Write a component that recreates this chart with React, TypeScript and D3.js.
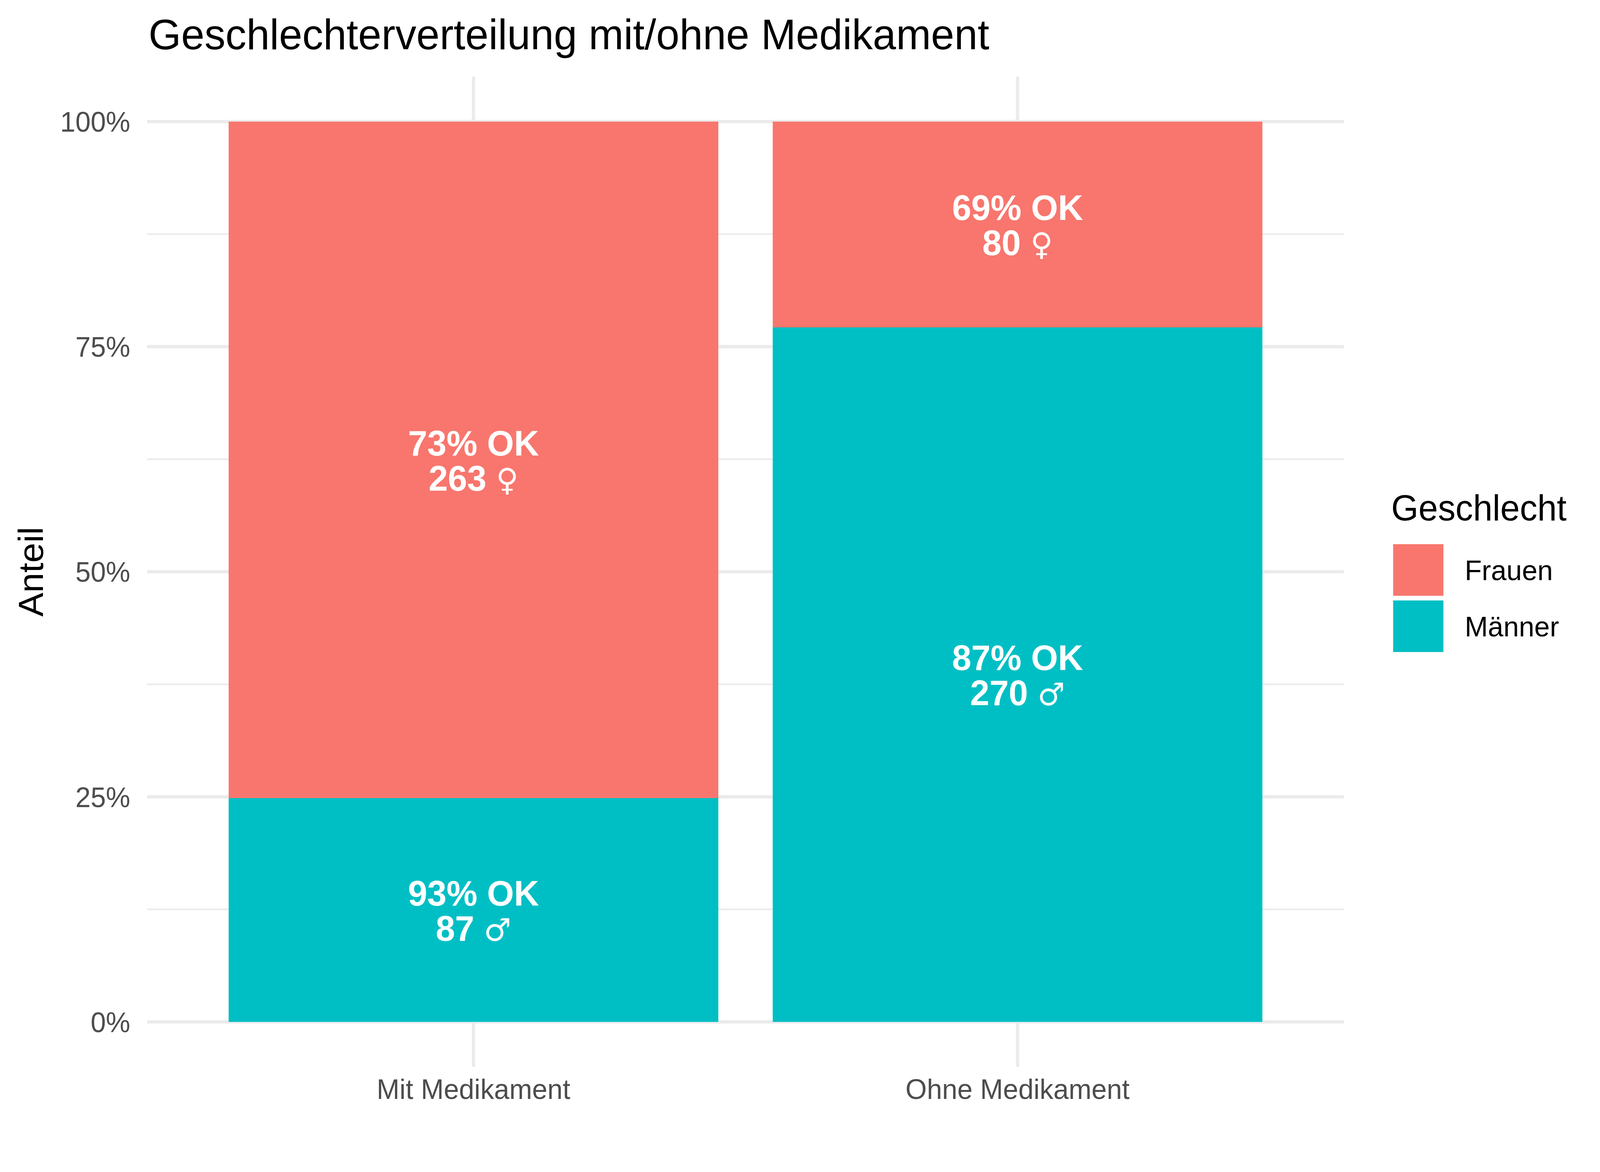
import React from 'react';
import * as d3 from 'd3';

// Data
const groups = ['Mit Medikament', 'Ohne Medikament'];
const sexes = ['Frauen', 'Männer'];
const symbols = ['♀', '♂'];
const frauenCounts = [263, 80];
const maennerCounts = [87, 270];
const frauenOk = [73, 69];
const maennerOk = [93, 87];
const yTicks = [0, 0.25, 0.5, 0.75, 1];
const yMinorTicks = [0.125, 0.375, 0.625, 0.875];
const colors = ['#F8766D', '#00BFC4'];

const W = 4200;
const H = 3000;
const panel = { left: 386, right: 3528, top: 196, bottom: 2731 };
const font = '"Liberation Sans", Arial, Helvetica, sans-serif';

const App: React.FC = () => {
  const x = d3
    .scalePoint<string>()
    .domain(groups)
    .range([panel.left, panel.right])
    .padding(0.6);
  const barW = x.step() * 0.9;

  // ggplot-style 5% expansion of the y range
  const pad = ((panel.bottom - panel.top) / 1.1) * 0.05;
  const y = d3
    .scaleLinear()
    .domain([0, 1])
    .range([panel.bottom - pad, panel.top + pad]);

  const fmt = d3.format('.0%');

  // stacked segments: Männer at bottom, Frauen on top
  const segments = groups.flatMap((g, i) => {
    const total = frauenCounts[i] + maennerCounts[i];
    const m = maennerCounts[i] / total;
    return [
      { g, sex: 1, y0: 0, y1: m, n: maennerCounts[i], ok: maennerOk[i] },
      { g, sex: 0, y0: m, y1: 1, n: frauenCounts[i], ok: frauenOk[i] },
    ];
  });

  // the svg fills the viewport, whatever size the browser gives it
  return (
    <div style={{ position: 'fixed', left: 0, top: 0, width: '100%', height: '100%' }}>
      <svg
        width="100%"
        height="100%"
        viewBox={`0 0 ${W} ${H}`}
        preserveAspectRatio="none"
        style={{ display: 'block', background: '#fff' }}
        fontFamily={font}
      >
        {/* grid */}
        {yMinorTicks.map((t) => (
          <line key={'mi' + t} x1={panel.left} x2={panel.right} y1={y(t)} y2={y(t)} stroke="#EBEBEB" strokeWidth={4.3} />
        ))}
        {yTicks.map((t) => (
          <line key={'ma' + t} x1={panel.left} x2={panel.right} y1={y(t)} y2={y(t)} stroke="#EBEBEB" strokeWidth={8.5} />
        ))}
        {groups.map((g) => (
          <line key={'v' + g} x1={x(g)} x2={x(g)} y1={panel.top} y2={panel.bottom} stroke="#EBEBEB" strokeWidth={8.5} />
        ))}

        {/* bars */}
        {segments.map((s) => (
          <rect
            key={s.g + s.sex}
            x={(x(s.g) as number) - barW / 2}
            width={barW}
            y={y(s.y1)}
            height={y(s.y0) - y(s.y1)}
            fill={colors[s.sex]}
          />
        ))}

        {/* labels */}
        {segments.map((s) => {
          const mid = y((s.y0 + s.y1) / 2);
          const cx = x(s.g) as number;
          return (
            <text key={'t' + s.g + s.sex} textAnchor="middle" fill="#fff" fontSize={91} fontWeight="bold">
              <tspan x={cx} y={mid - 11.5}>{s.ok}% OK</tspan>
              <tspan x={cx} y={mid + 78.5}>
                {s.n} <tspan fontWeight="normal" fontFamily='"DejaVu Sans", sans-serif' fontSize={80}>{symbols[s.sex]}</tspan>
              </tspan>
            </text>
          );
        })}

        {/* y axis */}
        {yTicks.map((t) => (
          <text key={'yl' + t} x={342} y={y(t) + 26} textAnchor="end" fontSize={72} fill="#4D4D4D">
            {fmt(t)}
          </text>
        ))}
        <text
          transform={`translate(113,${(panel.top + panel.bottom) / 2}) rotate(-90)`}
          textAnchor="middle"
          fontSize={92}
          fill="#000"
        >
          Anteil
        </text>

        {/* x axis */}
        {groups.map((g) => (
          <text key={'xl' + g} x={x(g)} y={2813} textAnchor="middle" fontSize={72} fill="#4D4D4D">
            {g}
          </text>
        ))}

        {/* title */}
        <text x={390} y={126} fontSize={110} fill="#000">
          Geschlechterverteilung mit/ohne Medikament
        </text>

        {/* legend */}
        <text x={3652} y={1332} fontSize={92} fill="#000">
          Geschlecht
        </text>
        {sexes.map((s, i) => (
          <g key={'lg' + s} transform={`translate(3657,${1393 + i * 144})`}>
            <rect width={132} height={132} fill={colors[i]} />
            <text x={188} y={92} fontSize={73} fill="#000">
              {s}
            </text>
          </g>
        ))}
      </svg>
    </div>
  );
};

export default App;
